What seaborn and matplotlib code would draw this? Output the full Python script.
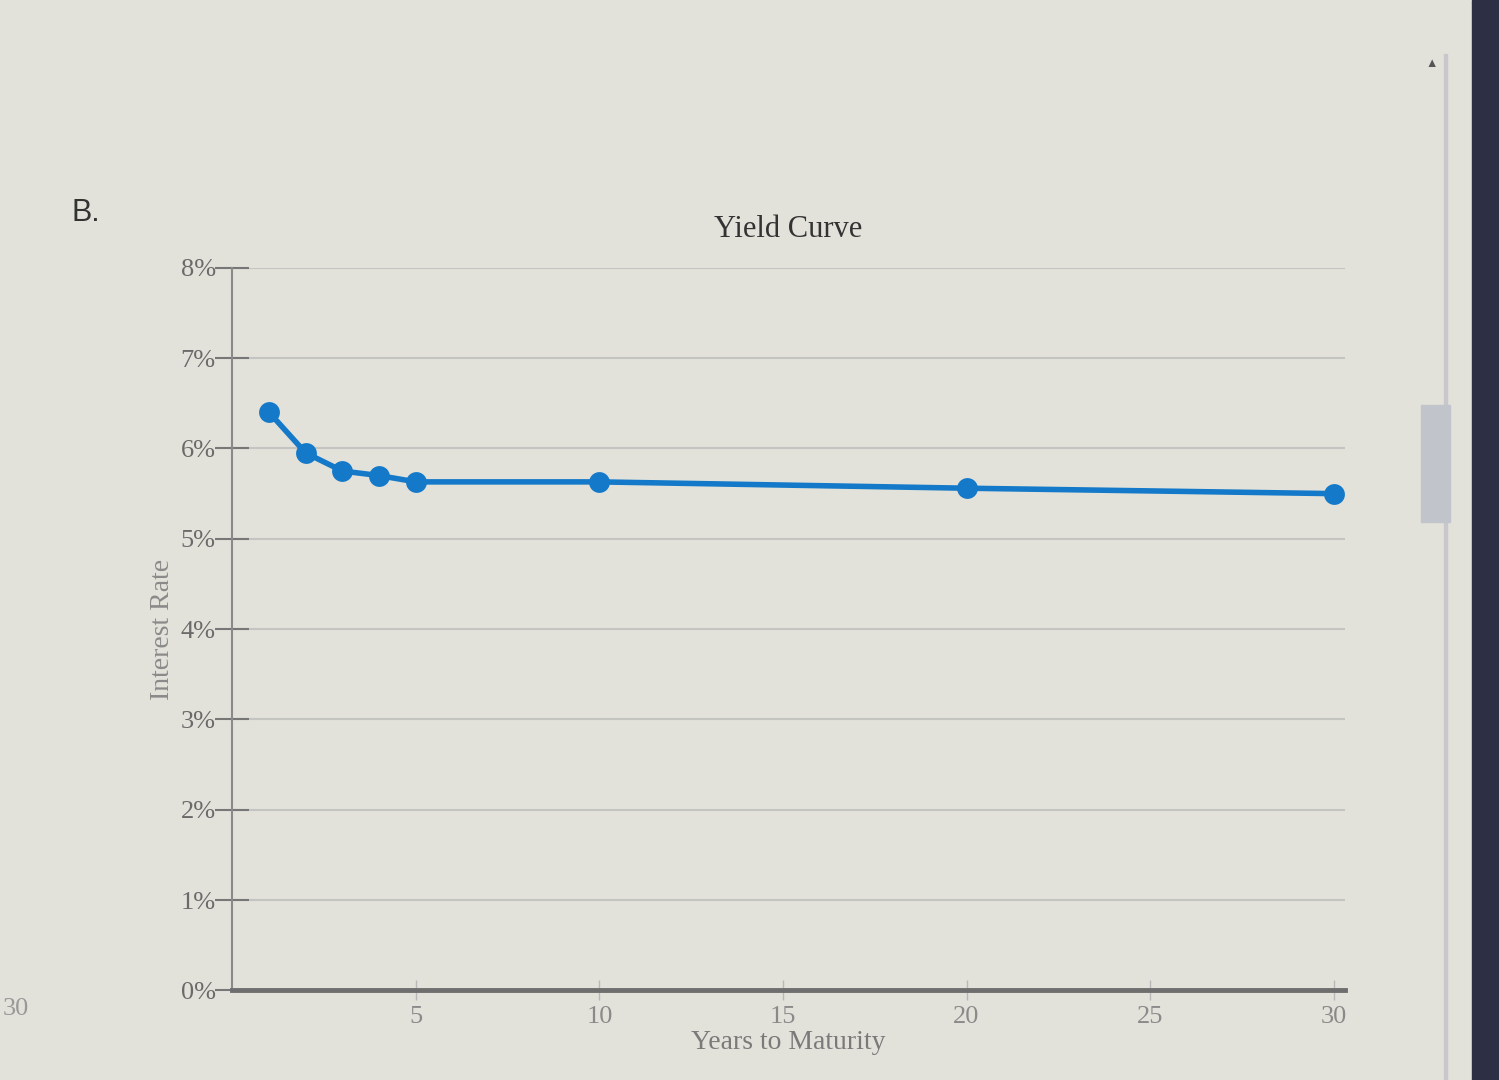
import matplotlib
matplotlib.use("Agg")
import matplotlib.pyplot as plt
import matplotlib.patches as mpatches
from matplotlib.ticker import FuncFormatter
import seaborn as sns
import pandas as pd

# yield curve
years = [1, 2, 3, 4, 5, 10, 20, 30]
rates = [6.40, 5.95, 5.75, 5.70, 5.63, 5.63, 5.56, 5.50]
y_ticks = [0, 1, 2, 3, 4, 5, 6, 7, 8]
x_ticks = [5, 10, 15, 20, 25, 30]

df = pd.DataFrame({"Years to Maturity": years, "Interest Rate": rates})

sns.set_theme(style="white")
plt.rcParams["font.family"] = ["Liberation Serif", "DejaVu Serif"]

bg = "#e3e2da"
fig = plt.figure(figsize=(14.99, 10.8), dpi=100, facecolor=bg)
ax = fig.add_axes([0.155, 0.083, 0.742, 0.669])
ax.set_facecolor(bg)

sns.lineplot(data=df, x="Years to Maturity", y="Interest Rate", ax=ax,
             color="#1479c9", linewidth=4, marker="o", markersize=15,
             markeredgewidth=0)

ax.set_xlim(0, 30.3)
ax.set_ylim(0, 8)
ax.set_yticks(y_ticks)
ax.set_xticks(x_ticks)
ax.yaxis.set_major_formatter(FuncFormatter(lambda v, p: f"{v:.0f}%"))
ax.grid(axis="y", color="#c4c4c0", linewidth=1.5)
ax.grid(axis="x", visible=False)

for s in ["top", "right"]:
    ax.spines[s].set_visible(False)
ax.spines["left"].set_color("#8a8a8a")
ax.spines["left"].set_linewidth(1.5)
ax.spines["bottom"].set_color("#6e6e6e")
ax.spines["bottom"].set_linewidth(3.5)

ax.tick_params(axis="y", direction="inout", length=24, width=1.5,
               color="#777777", labelsize=19, labelcolor="#6a6a6a", pad=0, left=True)
ax.tick_params(axis="x", direction="inout", length=14, width=1,
               color="#b8b8b8", labelsize=19, labelcolor="#8a8a8a", pad=4, bottom=True)

ax.set_xlabel("Years to Maturity", fontsize=20, color="#7a7a7a", labelpad=2)
ax.set_ylabel("Interest Rate", fontsize=20, color="#8a8a8a", labelpad=4)
ax.set_title("Yield Curve", fontsize=22, color="#333333", pad=22)

# page decorations from the screenshot
fig.text(0.048, 0.795, "B.", fontsize=22, color="#333333",
         family=["Liberation Sans", "DejaVu Sans"])
fig.text(0.002, 0.06, "30", fontsize=19, color="#999999")
fig.patches.append(mpatches.Rectangle((0.9635, 0.0), 0.002, 0.95,
                                      transform=fig.transFigure, color="#c8c8cc", zorder=0))
fig.patches.append(mpatches.Rectangle((0.948, 0.517), 0.019, 0.108,
                                      transform=fig.transFigure, color="#c2c4cc", zorder=0))
fig.patches.append(mpatches.Rectangle((0.982, 0.0), 0.018, 1.0,
                                      transform=fig.transFigure, color="#2d2f45", zorder=0))
fig.text(0.955, 0.938, "\u25b2", fontsize=9, color="#555555", ha="center")

fig.savefig("out.png", dpi=100, facecolor=bg)
